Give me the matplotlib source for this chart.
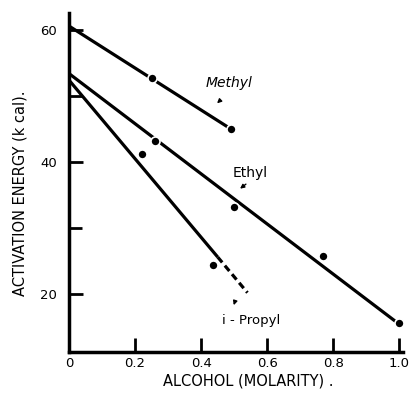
"""
Activation energy against alcohol molarity for three alcohols.
"""

import matplotlib
matplotlib.use("Agg")
import matplotlib.pyplot as plt

# Measured points
methyl_x = [0.25, 0.49]
methyl_y = [52.8, 45.0]
ethyl_x = [0.26, 0.50, 0.77, 1.0]
ethyl_y = [43.2, 33.2, 25.8, 15.6]
propyl_x = [0.22, 0.435]
propyl_y = [41.2, 24.4]

# Fitted lines (end points)
methyl_fit_x = [0.0, 0.49]
methyl_fit_y = [60.6, 45.0]
ethyl_fit_x = [0.0, 1.0]
ethyl_fit_y = [53.4, 15.4]
propyl_fit_x = [0.0, 0.45]
propyl_fit_y = [52.4, 25.6]
propyl_ext_x = [0.45, 0.54]
propyl_ext_y = [25.6, 20.2]

x_ticks = [0, 0.2, 0.4, 0.6, 0.8, 1.0]
x_tick_labels = ["0", "0.2", "0.4", "0.6", "0.8", "1.0"]
y_ticks = [20, 40, 60]
y_minor_ticks = [30, 50]

plt.rcParams["font.family"] = ["DejaVu Sans"]

fig = plt.figure(figsize=(4.12, 4.01), dpi=100)
ax = fig.add_axes([0.1675, 0.122, 0.81, 0.846])

lw = 2.3
ax.plot(methyl_fit_x, methyl_fit_y, "k-", lw=lw, solid_capstyle="butt")
ax.plot(ethyl_fit_x, ethyl_fit_y, "k-", lw=lw, solid_capstyle="butt")
ax.plot(propyl_fit_x, propyl_fit_y, "k-", lw=lw, solid_capstyle="butt")
ax.plot(propyl_ext_x, propyl_ext_y, "k-", lw=lw, dashes=(2.2, 1.3))

dot = dict(ls="none", marker="o", ms=6.5, mfc="black", mec="white", mew=1.2, zorder=3)
ax.plot(methyl_x, methyl_y, **dot)
ax.plot(ethyl_x, ethyl_y, **dot)
ax.plot(propyl_x, propyl_y, **dot)

# Curve labels with their little pointers
arrow = dict(arrowstyle="-|>", lw=1.0, color="black", mutation_scale=6)
ax.annotate("", xy=(0.442, 48.6), xytext=(0.463, 49.6), arrowprops=arrow)
ax.text(0.484, 52.0, "Methyl", fontsize=10, style="italic", ha="center", va="center")
ax.annotate("", xy=(0.511, 35.7), xytext=(0.542, 36.9), arrowprops=arrow)
ax.text(0.548, 38.3, "Ethyl", fontsize=10, ha="center", va="center")
ax.annotate("", xy=(0.496, 17.9), xytext=(0.505, 19.3), arrowprops=arrow)
ax.text(0.551, 16.0, "i - Propyl", fontsize=9.5, ha="center", va="center")

ax.set_xlim(0, 1.01)
ax.set_ylim(11.2, 62.6)
ax.set_xticks(x_ticks, labels=x_tick_labels)
ax.set_yticks(y_ticks)
ax.set_yticks(y_minor_ticks, minor=True)
ax.tick_params(direction="in", length=10, width=2, labelsize=9.5)
ax.tick_params(axis="x", pad=3.5)
ax.tick_params(axis="y", pad=8.6)
ax.tick_params(axis="y", which="minor", direction="in", length=9, width=2)

for side in ("top", "right"):
    ax.spines[side].set_visible(False)
for side in ("left", "bottom"):
    ax.spines[side].set_linewidth(2.5)

ax.set_xlabel("ALCOHOL (MOLARITY) .", fontsize=10.5)
ax.xaxis.set_label_coords(0.536, -0.062)
ax.set_ylabel("ACTIVATION ENERGY (k cal).", fontsize=10.5)
ax.yaxis.set_label_coords(-0.123, 0.467)

fig.savefig("out.png", dpi=100)
